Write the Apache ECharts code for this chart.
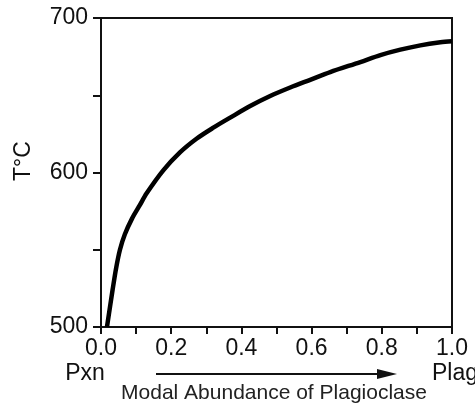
<!DOCTYPE html>
<html>
<head>
<meta charset="utf-8">
<script src="https://cdn.jsdelivr.net/npm/echarts@6/dist/echarts.min.js"></script>
<style>
  html, body { margin: 0; padding: 0; background: #fff; }
  #chart { width: 475px; height: 406px; }
</style>
</head>
<body>
<div id="chart"></div>
<script>
// curve: modal abundance of plagioclase vs temperature
const abundance = [0.017, 0.033, 0.043, 0.054, 0.068, 0.088, 0.111, 0.130, 0.178, 0.225, 0.273, 0.320, 0.368, 0.425, 0.482, 0.539, 0.596, 0.653, 0.739, 0.796, 0.853, 0.910, 0.967, 1.0]
const temperature = [500, 524, 538, 550, 560, 570, 579, 586.5, 601.5, 613, 622, 629, 635.5, 643, 649.5, 655, 660, 665, 671.5, 676, 679.5, 682.3, 684.3, 685]
const yLabels = [500, 600, 700]
const xLabels = [0, 0.2, 0.4, 0.6, 0.8, 1.0]

const font = "'Liberation Sans', Arial, Helvetica, sans-serif"
const ink = '#111'

const chart = echarts.init(document.getElementById('chart'))

const option = {
    animation: false,
    grid: {
        left: 101, top: 18, right: 23, bottom: 79,
        show: true, borderColor: ink, borderWidth: 2,
    },
    xAxis: {
        type: 'value',
        min: 0, max: 1, interval: 0.1,
        axisLine: { lineStyle: { color: ink, width: 2 } },
        axisTick: { show: true, length: 7, lineStyle: { color: ink, width: 2 } },
        splitLine: { show: false },
        axisLabel: {
            margin: 10,
            color: ink,
            fontFamily: font,
            fontSize: 23,
            showMinLabel: true,
            showMaxLabel: true,
            formatter: (v) => {
                const hit = xLabels.find(l => Math.abs(l - v) < 1e-6)
                return hit === undefined ? '' : hit.toFixed(1)
            },
        },
    },
    yAxis: {
        type: 'value',
        min: 500, max: 700, interval: 50,
        axisLine: { lineStyle: { color: ink, width: 2 } },
        axisTick: { show: true, length: 8, lineStyle: { color: ink, width: 2 } },
        splitLine: { show: false },
        axisLabel: {
            margin: 13,
            color: ink,
            fontFamily: font,
            fontSize: 23,
            formatter: (v) => yLabels.includes(v) ? String(v) : '',
        },
    },
    series: [{
        type: 'line',
        data: abundance.map((x, i) => [x, temperature[i]]),
        smooth: 0.3,
        showSymbol: false,
        lineStyle: { color: '#000', width: 4.5, join: 'round' },
    }],
    graphic: [
        {
            type: 'text', x: 24, y: 161, rotation: Math.PI / 2,
            style: { text: 'T°C', fill: ink, font: '23px ' + font, align: 'center', verticalAlign: 'middle' },
        },
        {
            type: 'text', x: 85, y: 374,
            style: { text: 'Pxn', fill: ink, font: '23px ' + font, align: 'center', verticalAlign: 'middle' },
        },
        {
            type: 'text', x: 432, y: 374,
            style: { text: 'Plag', fill: ink, font: '23px ' + font, align: 'left', verticalAlign: 'middle' },
        },
        {
            type: 'line',
            shape: { x1: 156, y1: 374, x2: 382, y2: 374 },
            style: { stroke: ink, lineWidth: 2 },
        },
        {
            type: 'polygon',
            shape: { points: [[377, 369], [397, 374], [377, 379]] },
            style: { fill: ink },
        },
        {
            type: 'text', x: 274, y: 393,
            style: { text: 'Modal Abundance of Plagioclase', fill: '#222', font: '21px ' + font, align: 'center', verticalAlign: 'middle' },
        },
    ],
}

chart.setOption(option)
</script>
</body>
</html>
